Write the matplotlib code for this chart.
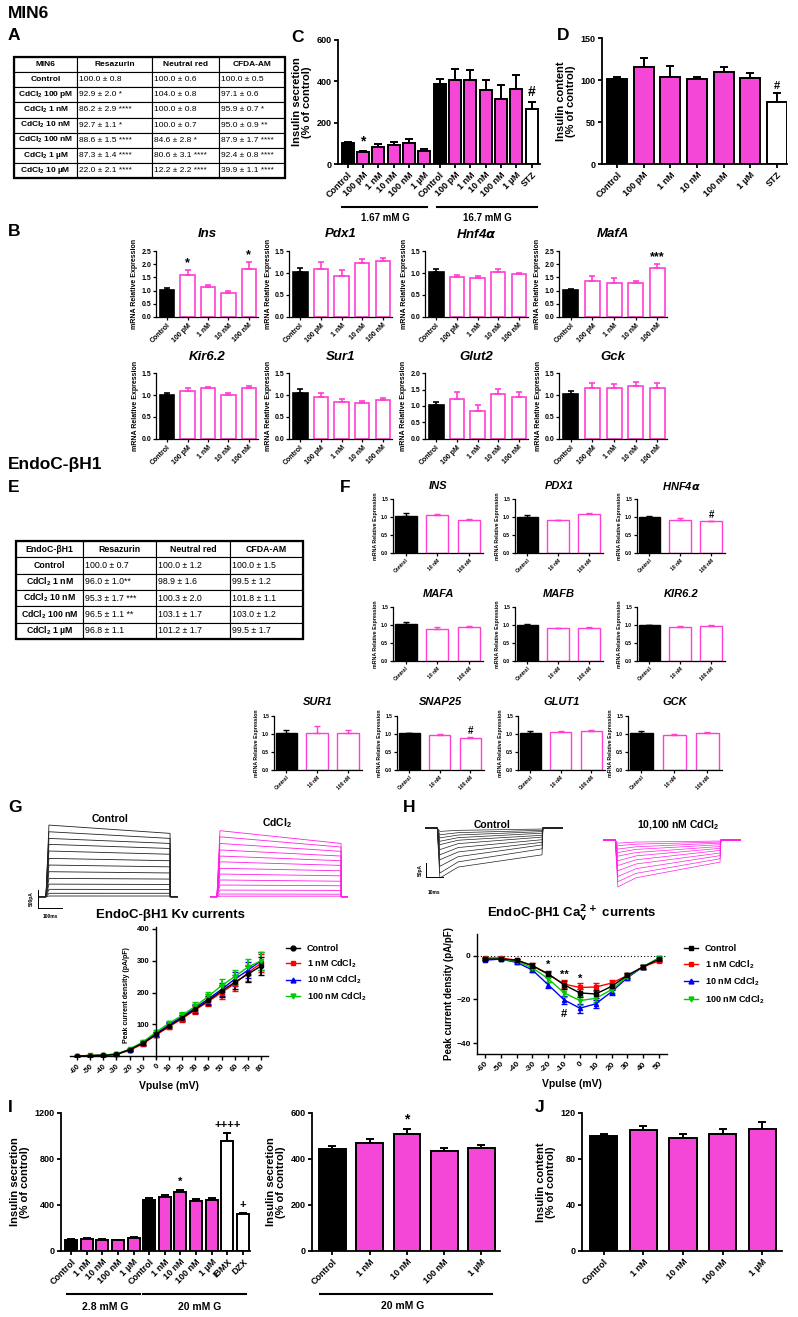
import numpy as np
import matplotlib
matplotlib.use("Agg")
import matplotlib.pyplot as plt
from matplotlib.lines import Line2D
from matplotlib.patches import Rectangle

plt.rcParams['font.family'] = ['Liberation Sans', 'DejaVu Sans']
plt.rcParams['font.weight'] = 'bold'
plt.rcParams['axes.labelweight'] = 'bold'
plt.rcParams['mathtext.default'] = 'regular'

W, H = 798, 1317
MAG = '#f447d8'
PINK = '#ff3fd2'

# ---------------- data ----------------
# A: MIN6 viability table
tabA_head = ["MIN6", "Resazurin", "Neutral red", "CFDA-AM"]
tabA_rows = ["Control", "CdCl$_2$ 100 pM", "CdCl$_2$ 1 nM", "CdCl$_2$ 10 nM",
             "CdCl$_2$ 100 nM", "CdCl$_2$ 1 µM", "CdCl$_2$ 10 µM"]
tabA_resazurin = ["100.0 ± 0.8", "92.9 ± 2.0 *", "86.2 ± 2.9 ****", "92.7 ± 1.1 *",
                  "88.6 ± 1.5 ****", "87.3 ± 1.4 ****", "22.0 ± 2.1 ****"]
tabA_neutral = ["100.0 ± 0.6", "104.0 ± 0.8", "100.0 ± 0.8", "100.0 ± 0.7",
                "84.6 ± 2.8 *", "80.6 ± 3.1 ****", "12.2 ± 2.2 ****"]
tabA_cfda = ["100.0 ± 0.5", "97.1 ± 0.6", "95.9 ± 0.7 *", "95.0 ± 0.9 **",
             "87.9 ± 1.7 ****", "92.4 ± 0.8 ****", "39.9 ± 1.1 ****"]

# E: EndoC-bH1 viability table
tabE_head = ["EndoC-βH1", "Resazurin", "Neutral red", "CFDA-AM"]
tabE_rows = ["Control", "CdCl$_2$ 1 nM", "CdCl$_2$ 10 nM", "CdCl$_2$ 100 nM", "CdCl$_2$ 1 µM"]
tabE_resazurin = ["100.0 ± 0.7", "96.0 ± 1.0**", "95.3 ± 1.7 ***", "96.5 ± 1.1 **", "96.8 ± 1.1"]
tabE_neutral = ["100.0 ± 1.2", "98.9 ± 1.6", "100.3 ± 2.0", "103.1 ± 1.7", "101.2 ± 1.7"]
tabE_cfda = ["100.0 ± 1.5", "99.5 ± 1.2", "101.8 ± 1.1", "103.0 ± 1.2", "99.5 ± 1.7"]

# C: MIN6 insulin secretion
c_labels = ["Control", "100 pM", "1 nM", "10 nM", "100 nM", "1 µM",
            "Control", "100 pM", "1 nM", "10 nM", "100 nM", "1 µM", "STZ"]
c_vals = [103, 57, 83, 90, 103, 63, 385, 405, 405, 358, 315, 365, 268]
c_errs = [5, 5, 12, 15, 18, 8, 28, 55, 52, 48, 65, 65, 33]
c_colors = ['black'] + [MAG] * 5 + ['black'] + [MAG] * 5 + ['white']

# D: MIN6 insulin content
d_labels = ["Control", "100 pM", "1 nM", "10 nM", "100 nM", "1 µM", "STZ"]
d_vals = [101, 116, 104, 101, 109, 102, 74]
d_errs = [3, 10, 13, 2, 7, 6, 10]
d_colors = ['black'] + [MAG] * 5 + ['white']

# B: MIN6 mRNA
b_labels = ["Control", "100 pM", "1 nM", "10 nM", "100 nM"]
ins_v, ins_e = [1.02, 1.60, 1.15, 0.92, 1.83], [0.07, 0.17, 0.08, 0.08, 0.25]
pdx1_v, pdx1_e = [1.03, 1.08, 0.93, 1.23, 1.28], [0.08, 0.17, 0.13, 0.09, 0.06]
hnf4a_v, hnf4a_e = [1.02, 0.90, 0.88, 1.02, 0.98], [0.07, 0.06, 0.06, 0.08, 0.03]
mafa_v, mafa_e = [1.02, 1.37, 1.30, 1.27, 1.87], [0.04, 0.17, 0.17, 0.09, 0.14]
kir62_v, kir62_e = [1.00, 1.08, 1.15, 1.00, 1.17], [0.04, 0.07, 0.03, 0.04, 0.04]
sur1_v, sur1_e = [1.04, 0.95, 0.83, 0.82, 0.89], [0.09, 0.09, 0.07, 0.05, 0.04]
glut2_v, glut2_e = [1.03, 1.22, 0.85, 1.35, 1.26], [0.08, 0.21, 0.17, 0.17, 0.17]
gck_v, gck_e = [1.02, 1.15, 1.15, 1.20, 1.15], [0.07, 0.12, 0.11, 0.09, 0.12]

# F: EndoC-bH1 mRNA
f_labels = ["Control", "10 nM", "100 nM"]
hINS_v, hINS_e = [1.02, 1.05, 0.92], [0.08, 0.03, 0.02]
hPDX1_v, hPDX1_e = [1.00, 0.91, 1.07], [0.06, 0.02, 0.05]
hHNF4A_v, hHNF4A_e = [1.00, 0.93, 0.88], [0.04, 0.04, 0.01]
hMAFA_v, hMAFA_e = [1.02, 0.90, 0.95], [0.06, 0.04, 0.02]
hMAFB_v, hMAFB_e = [1.00, 0.92, 0.93], [0.02, 0.01, 0.02]
hKIR62_v, hKIR62_e = [1.00, 0.94, 0.98], [0.01, 0.04, 0.02]
hSUR1_v, hSUR1_e = [1.02, 1.02, 1.02], [0.10, 0.19, 0.10]
hSNAP25_v, hSNAP25_e = [1.02, 0.96, 0.90], [0.01, 0.03, 0.03]
hGLUT1_v, hGLUT1_e = [1.02, 1.05, 1.07], [0.05, 0.04, 0.03]
hGCK_v, hGCK_e = [1.02, 0.98, 1.02], [0.05, 0.02, 0.04]

# G: Kv example sweeps (pA) : peak after onset / level at end of 500 ms step
kv_ctrl_peak = [1990, 1805, 1620, 1455, 1270, 1065, 880, 695, 510, 350, 205, 95, 20]
kv_ctrl_end = [1760, 1620, 1480, 1340, 1180, 1000, 830, 660, 490, 340, 200, 95, 20]
kv_cd_peak = [1835, 1665, 1480, 1300, 1130, 970, 790, 630, 465, 325, 185, 75, 15]
kv_cd_end = [1480, 1380, 1260, 1130, 1000, 870, 720, 580, 430, 305, 175, 70, 15]
kv_t = [-30, 0, 12, 500, 501, 530]

# G: Kv current density (pA/pF)
kv_v = [-60, -50, -40, -30, -20, -10, 0, 10, 20, 30, 40, 50, 60, 70, 80]
kv_ctrl = [0, 1, 2, 5, 20, 40, 68, 95, 120, 148, 175, 205, 232, 258, 283]
kv_1nm = [0, 2, 3, 5, 18, 38, 66, 92, 118, 145, 172, 200, 228, 262, 292]
kv_10nm = [0, 1, 3, 6, 20, 41, 70, 98, 124, 152, 180, 210, 242, 270, 300]
kv_100nm = [0, 1, 3, 6, 22, 44, 75, 103, 128, 157, 188, 222, 250, 280, 300]
kv_err = [1, 1, 1, 2, 3, 5, 7, 8, 10, 12, 15, 20, 22, 25, 28]

# H: Ca example sweeps (pA): peak / level at 12 ms / level at end of 60 ms step
ca_ctrl_peak = [192, 173, 147, 122, 103, 83, 64, 51, 38, 26, 13]
ca_ctrl_mid = [150, 130, 110, 92, 75, 60, 47, 37, 27, 18, 9]
ca_ctrl_end = [103, 80, 65, 55, 45, 35, 28, 20, 14, 9, 4]
ca_cd_peak = [180, 160, 140, 118, 98, 80, 62, 48, 35, 22, 12]
ca_cd_mid = [145, 128, 110, 92, 76, 61, 48, 36, 26, 16, 8]
ca_cd_end = [85, 72, 60, 50, 40, 32, 25, 18, 12, 8, 4]
ca_t = [-7, 0, 1.5, 12, 60, 60.5, 72]

# H: Ca current density (pA/pF)
ca_v = [-60, -50, -40, -30, -20, -10, 0, 10, 20, 30, 40, 50]
ca_ctrl = [-1.5, -1.5, -2, -4.5, -8.3, -13.3, -17, -17.5, -14, -9, -5, -1.5]
ca_1nm = [-1, -1, -2, -4.5, -8.5, -13, -14.5, -14.3, -12.5, -9, -5, -2.3]
ca_10nm = [-2, -1.5, -3, -6.5, -13.3, -20.2, -24, -22, -16.5, -10, -5, -1]
ca_100nm = [-1.5, -1.5, -2.5, -5.5, -10.5, -17, -20.5, -19.5, -15.5, -9.5, -5, -1]
ca_err = [0.5, 0.5, 0.7, 1, 1.3, 1.8, 2, 1.8, 1.5, 1.2, 1, 0.7]

# I: EndoC-bH1 insulin secretion
i_labels = ["Control", "1 nM", "10 nM", "100 nM", "1 µM",
            "Control", "1 nM", "10 nM", "100 nM", "1 µM", "IBMX", "DZX"]
i_vals = [100, 105, 100, 95, 115, 445, 470, 510, 435, 445, 960, 318]
i_errs = [4, 5, 5, 3, 8, 15, 20, 20, 15, 15, 65, 15]
i_colors = ['black'] + [MAG] * 4 + ['black'] + [MAG] * 4 + ['white', 'white']

i2_labels = ["Control", "1 nM", "10 nM", "100 nM", "1 µM"]
i2_vals = [443, 470, 510, 435, 447]
i2_errs = [12, 18, 20, 15, 15]

# J: EndoC-bH1 insulin content
j_labels = ["Control", "1 nM", "10 nM", "100 nM", "1 µM"]
j_vals = [100, 105, 98, 102, 106]
j_errs = [2, 4, 4, 4, 6]
ij_colors = ['black'] + [MAG] * 4

fig = plt.figure(figsize=(W / 100, H / 100), dpi=100)


def px_axes(l, t, r, b):
    return fig.add_axes([l / W, 1 - b / H, (r - l) / W, (b - t) / H])


def ftext(x, y, s, **kw):
    kw.setdefault('ha', 'left')
    kw.setdefault('va', 'center')
    fig.text(x / W, 1 - y / H, s, **kw)


def fline(x0, x1, y0, y1, lw=1.5):
    fig.add_artist(Line2D([x0 / W, x1 / W], [1 - y0 / H, 1 - y1 / H],
                          transform=fig.transFigure, color='black', lw=lw))


def style_axes(ax, fs, lw=1.2):
    for s in ['top', 'right']:
        ax.spines[s].set_visible(False)
    for s in ['left', 'bottom']:
        ax.spines[s].set_linewidth(lw)
    ax.tick_params(direction='out', length=3, width=lw, labelsize=fs, pad=1.5)


def draw_table(box, head, rows, cols, col_w, fs):
    ax = px_axes(*box)
    ax.set_axis_off()
    cells = [head] + [[r] + [c[i] for c in cols] for i, r in enumerate(rows)]
    tb = ax.table(cellText=cells, colWidths=col_w, bbox=[0, 0, 1, 1], cellLoc='left')
    tb.auto_set_font_size(False)
    for (r, c), cell in tb.get_celld().items():
        cell.set_linewidth(0.8)
        cell.PAD = 0.03
        txt = cell.get_text()
        txt.set_fontsize(fs)
        txt.set_fontweight('normal')
        txt.set_family(['Liberation Sans Narrow', 'Liberation Sans', 'DejaVu Sans'])
        if r == 0 or c == 0:
            cell._loc = 'center'
            txt.set_ha('center')
            txt.set_fontweight('bold')
    ax.add_patch(Rectangle((0, 0), 1, 1, transform=ax.transAxes, fill=False,
                           lw=1.6, clip_on=False))


def bar_panel(box, labels, vals, errs, colors, ylim, yticks, xlim, width,
              ylabel, fs=6.5, lfs=8, lw=1.4, marks=None, mark_fs=10):
    ax = px_axes(*box)
    x = np.arange(len(vals))
    ax.bar(x, vals, width, color=colors, edgecolor='black', linewidth=lw, zorder=2)
    ax.errorbar(x, vals, yerr=[np.zeros(len(vals)), errs], fmt='none', ecolor='black',
                elinewidth=lw, capsize=3, capthick=lw, zorder=1)
    ax.set_xlim(*xlim)
    ax.set_ylim(*ylim)
    ax.set_yticks(yticks)
    ax.set_xticks(x)
    ax.set_xticklabels(labels, rotation=45, ha='right', rotation_mode='anchor')
    style_axes(ax, fs, lw=1.3)
    ax.set_ylabel(ylabel, fontsize=lfs, linespacing=1.1, labelpad=3)
    if marks:
        span = ylim[1] - ylim[0]
        for i, m in marks.items():
            ax.text(i, vals[i] + errs[i] + 0.02 * span, m, ha='center', va='bottom',
                    fontsize=mark_fs)
    return ax


def mrna_panel(box, title, vals, errs, labels, ylim, yticks, xlim, title_y,
               fs=4.5, lfs=5, tfs=9.5, lw=1.2, marks=None, mark_fs=9, cap=2.5):
    ax = px_axes(*box)
    x = np.arange(len(vals))
    face = ['black'] + ['white'] * (len(vals) - 1)
    edge = ['black'] + [PINK] * (len(vals) - 1)
    ax.bar(x, vals, 0.7, color=face, edgecolor=edge, linewidth=lw, zorder=2)
    for xi, v, e, c in zip(x, vals, errs, edge):
        ax.errorbar(xi, v, yerr=[[0], [e]], fmt='none', ecolor=c, elinewidth=lw,
                    capsize=cap, capthick=lw, zorder=3)
    ax.set_xlim(*xlim)
    ax.set_ylim(*ylim)
    ax.set_yticks(yticks)
    ax.set_yticklabels([f"{t:.1f}" for t in yticks])
    ax.set_xticks(x)
    ax.set_xticklabels(labels, rotation=45, ha='right', rotation_mode='anchor')
    style_axes(ax, fs, lw=0.9)
    ax.tick_params(length=2)
    ax.set_ylabel("mRNA Relative Expression", fontsize=lfs, labelpad=2)
    l, t, r, b = box
    ftext((l + r) / 2, title_y, title, ha='center', fontsize=tfs, style='italic')
    if marks:
        span = ylim[1] - ylim[0]
        for i, m in marks.items():
            ax.text(i, vals[i] + errs[i] + 0.01 * span, m, ha='center', va='bottom',
                    fontsize=mark_fs)
    return ax


# ---------------- headings ----------------
for x, y, s in [(8, 14, "MIN6"), (8, 36, "A"), (8, 232, "B"), (291, 37, "C"),
                (557, 35, "D"), (8, 465, "EndoC-βH1"), (8, 488, "E"), (340, 487, "F"),
                (8, 807, "G"), (403, 807, "H"), (8, 1108, "I"), (535, 1108, "J")]:
    ftext(x, y, s, fontsize=12.5)

# ---------------- A / E tables ----------------
draw_table((14, 57, 285, 178), tabA_head, tabA_rows,
           [tabA_resazurin, tabA_neutral, tabA_cfda], [63, 75, 67, 66], 6)
draw_table((16, 541, 303, 639), tabE_head, tabE_rows,
           [tabE_resazurin, tabE_neutral, tabE_cfda], [67, 73, 74, 73], 6.3)

# ---------------- C / D ----------------
bar_panel((338, 40, 540, 164), c_labels, c_vals, c_errs, c_colors, (0, 600),
          [0, 200, 400, 600], (-0.63, 12.55), 0.78, "Insulin secretion\n(% of control)",
          marks={1: '*', 12: '#'})
fline(342, 427, 207, 207)
fline(437, 537, 207, 207)
ftext(385, 218, "1.67 mM G", ha='center', fontsize=7)
ftext(487, 218, "16.7 mM G", ha='center', fontsize=7)

bar_panel((602, 38, 787, 164), d_labels, d_vals, d_errs, d_colors, (0, 150),
          [0, 50, 100, 150], (-0.56, 6.38), 0.75, "Insulin content\n(% of control)",
          marks={6: '#'}, mark_fs=8)

# ---------------- B ----------------
xl5 = (-0.55, 4.45)
t05 = [0.0, 0.5, 1.0, 1.5]
t25 = [0.0, 0.5, 1.0, 1.5, 2.0, 2.5]
t20 = [0.0, 0.5, 1.0, 1.5, 2.0]
bkw = dict(fs=5)
mrna_panel((156, 251, 258, 317), "Ins", ins_v, ins_e, b_labels, (0, 2.5), t25, xl5, 234,
           marks={1: '*', 4: '*'}, **bkw)
mrna_panel((289, 251, 392, 317), "Pdx1", pdx1_v, pdx1_e, b_labels, (0, 1.5), t05, xl5, 234, **bkw)
mrna_panel((425, 251, 528, 317), r"Hnf4$\mathit{\alpha}$", hnf4a_v, hnf4a_e, b_labels,
           (0, 1.5), t05, xl5, 234, **bkw)
mrna_panel((559, 251, 667, 317), "MafA", mafa_v, mafa_e, b_labels, (0, 2.5), t25, xl5, 234,
           marks={4: '***'}, **bkw)
mrna_panel((156, 373, 258, 439), "Kir6.2", kir62_v, kir62_e, b_labels, (0, 1.5), t05, xl5, 357, **bkw)
mrna_panel((289, 373, 392, 439), "Sur1", sur1_v, sur1_e, b_labels, (0, 1.5), t05, xl5, 357, **bkw)
mrna_panel((425, 373, 528, 439), "Glut2", glut2_v, glut2_e, b_labels, (0, 2.0), t20, xl5, 357, **bkw)
mrna_panel((559, 373, 667, 439), "Gck", gck_v, gck_e, b_labels, (0, 1.5), t05, xl5, 357, **bkw)

# ---------------- F ----------------
xl3 = (-0.4, 2.45)
fkw = dict(fs=3.6, lfs=3.8, tfs=8, lw=1.0, mark_fs=7, cap=2.5)
mrna_panel((393, 499, 483, 553), "INS", hINS_v, hINS_e, f_labels, (0, 1.5), t05, xl3, 486, **fkw)
mrna_panel((515, 499, 603, 553), "PDX1", hPDX1_v, hPDX1_e, f_labels, (0, 1.5), t05, xl3, 486, **fkw)
mrna_panel((637, 499, 725, 553), r"HNF4$\mathit{\alpha}$", hHNF4A_v, hHNF4A_e, f_labels,
           (0, 1.5), t05, xl3, 486, marks={2: '#'}, **fkw)
mrna_panel((393, 607, 483, 661), "MAFA", hMAFA_v, hMAFA_e, f_labels, (0, 1.5), t05, xl3, 594, **fkw)
mrna_panel((515, 607, 603, 661), "MAFB", hMAFB_v, hMAFB_e, f_labels, (0, 1.5), t05, xl3, 594, **fkw)
mrna_panel((637, 607, 725, 661), "KIR6.2", hKIR62_v, hKIR62_e, f_labels, (0, 1.5), t05, xl3, 594, **fkw)
mrna_panel((274, 716, 362, 770), "SUR1", hSUR1_v, hSUR1_e, f_labels, (0, 1.5), t05, xl3, 702, **fkw)
mrna_panel((397, 716, 484, 770), "SNAP25", hSNAP25_v, hSNAP25_e, f_labels, (0, 1.5), t05, xl3, 702,
           marks={2: '#'}, **fkw)
mrna_panel((518, 716, 605, 770), "GLUT1", hGLUT1_v, hGLUT1_e, f_labels, (0, 1.5), t05, xl3, 702, **fkw)
mrna_panel((628, 716, 722, 770), "GCK", hGCK_v, hGCK_e, f_labels, (0, 1.5), t05, xl3, 702, **fkw)

# ---------------- G: Kv traces ----------------
for box, peaks, ends, col in [((38.5, 818, 177.5, 905), kv_ctrl_peak, kv_ctrl_end, '#222222'),
                              ((209.5, 818, 348.5, 905), kv_cd_peak, kv_cd_end, '#ff1fe8')]:
    ax = px_axes(*box)
    for p, e in zip(peaks, ends):
        ax.plot(kv_t, [0, 0, p, e, 0, 0], color=col, lw=0.6)
    ax.set_xlim(-30, 530)
    ax.set_ylim(-230, 2187)
    ax.set_axis_off()
ftext(110, 819, "Control", ha='center', fontsize=7.5)
ftext(277, 823, "CdCl$_2$", ha='center', fontsize=7.5)
fline(38, 38, 890, 908, lw=0.7)
fline(38, 62, 908, 908, lw=0.7)
ftext(31, 899, "500pA", rotation=90, ha='center', fontsize=3.5)
ftext(50, 917, "100ms", ha='center', fontsize=3.5)
ftext(170, 915, "EndoC-βH1 Kv currents", ha='center', fontsize=9.5)

order = ["Control", "1 nM CdCl$_2$", "10 nM CdCl$_2$", "100 nM CdCl$_2$"]
styles = {"Control": ('black', 'o'), "1 nM CdCl$_2$": ('red', 's'),
          "10 nM CdCl$_2$": ('blue', '^'), "100 nM CdCl$_2$": ('#00cc00', 'v')}

ax = px_axes(70.4, 927.4, 267.6, 1057.3)
for vals, lab in [(kv_1nm, order[1]), (kv_10nm, order[2]), (kv_100nm, order[3]), (kv_ctrl, order[0])]:
    col, mk = styles[lab]
    ax.errorbar(kv_v, vals, yerr=kv_err, color=col, marker=mk, ms=3,
                lw=1, elinewidth=1.3, capsize=2)
ax.set_xlim(-65, 85)
ax.set_ylim(-4, 405)
ax.spines['left'].set_position(('data', 0))
ax.spines['bottom'].set_position(('data', 0))
style_axes(ax, 5.5, lw=1.0)
ax.set_xticks(kv_v)
ax.set_xticklabels([str(v) for v in kv_v], rotation=45, ha='right', rotation_mode='anchor')
ax.set_yticks([100, 200, 300, 400])
ax.set_xlabel("Vpulse (mV)", fontsize=7.5, labelpad=4)
ftext(127, 995, "Peak current density (pA/pF)", rotation=90, ha='center', fontsize=5)
hnd = [Line2D([], [], color=styles[k][0], marker=styles[k][1], ms=3.5, lw=1) for k in order]
ax.legend(hnd, order, loc='upper left', frameon=False,
          bbox_to_anchor=(278 / W, 1 - 936 / H), bbox_transform=fig.transFigure,
          fontsize=6.5, handlelength=1.5, handletextpad=0.8, labelspacing=0.45)

# ---------------- H: Ca traces ----------------
for box, peaks, mids, ends, col in [((425, 822, 563, 884), ca_ctrl_peak, ca_ctrl_mid, ca_ctrl_end, '#222222'),
                                    ((603, 834, 741, 896), ca_cd_peak, ca_cd_mid, ca_cd_end, '#ff1fe8')]:
    ax = px_axes(*box)
    for p, m, e in zip(peaks, mids, ends):
        ax.plot(ca_t, [0, 0, -p, -m, -e, 0, 0], color=col, lw=0.5)
    ax.set_xlim(-7, 72)
    ax.set_ylim(-215, 23)
    ax.set_axis_off()
ftext(492, 825, "Control", ha='center', fontsize=7.5)
ftext(678, 825, "10,100 nM CdCl$_2$", ha='center', fontsize=7.5)
fline(426, 426, 863, 877, lw=0.7)
fline(426, 443, 877, 877, lw=0.7)
ftext(420, 870, "50pA", rotation=90, ha='center', fontsize=3.5)
ftext(434, 892, "10ms", ha='center', fontsize=3.5)
ftext(572, 914, r"EndoC-βH1 Ca$_\mathbf{v}^\mathbf{2+}$ currents", ha='center', fontsize=9.5)

styles["Control"] = ('black', 's')
ax = px_axes(477, 934, 667, 1054)
for vals, lab in [(ca_1nm, order[1]), (ca_10nm, order[2]), (ca_100nm, order[3]), (ca_ctrl, order[0])]:
    col, mk = styles[lab]
    ax.errorbar(ca_v, vals, yerr=ca_err, color=col, marker=mk, ms=3,
                lw=1, elinewidth=1.2, capsize=2)
ax.axhline(0, color='black', lw=0.8, ls=(0, (1, 2)))
ax.set_xlim(-65, 55)
ax.set_ylim(-45, 10)
style_axes(ax, 6, lw=1.0)
ax.set_xticks(ca_v)
ax.set_xticklabels([str(v) for v in ca_v], rotation=45, ha='right', rotation_mode='anchor')
ax.set_yticks([-40, -20, 0])
ax.set_xlabel("Vpulse (mV)", fontsize=7.5, labelpad=4)
ax.set_ylabel("Peak current density (pA/pF)", fontsize=7, labelpad=2)
for xv, yv, m in [(-20, -4.0, '*'), (-10, -8.5, '**'), (0, -10.5, '*'), (-10, -26.5, '#')]:
    ax.text(xv, yv, m, ha='center', va='center', fontsize=8)
hnd = [Line2D([], [], color=styles[k][0], marker=styles[k][1], ms=3.5, lw=1) for k in order]
ax.legend(hnd, order, loc='upper left', frameon=False,
          bbox_to_anchor=(676 / W, 1 - 936 / H), bbox_transform=fig.transFigure,
          fontsize=6.5, handlelength=1.5, handletextpad=0.8, labelspacing=0.55)

# ---------------- I / J ----------------
bar_panel((61, 1113, 250, 1251), i_labels, i_vals, i_errs, i_colors, (0, 1200),
          [0, 400, 800, 1200], (-0.64, 11.45), 0.77, "Insulin secretion\n(% of control)",
          marks={7: '*', 10: '++++', 11: '+'}, mark_fs=8)
fline(67, 140, 1294, 1294)
fline(143, 246, 1294, 1294)
ftext(105, 1307, "2.8 mM G", ha='center', fontsize=7.5)
ftext(200, 1307, "20 mM G", ha='center', fontsize=7.5)

bar_panel((312, 1113, 500, 1251), i2_labels, i2_vals, i2_errs, ij_colors, (0, 600),
          [0, 200, 400, 600], (-0.55, 4.5), 0.72, "Insulin secretion\n(% of control)",
          marks={2: '*'})
fline(320, 492, 1294, 1294)
ftext(403, 1306, "20 mM G", ha='center', fontsize=7.5)

bar_panel((582, 1113, 782, 1251), j_labels, j_vals, j_errs, ij_colors, (0, 120),
          [0, 40, 80, 120], (-0.55, 4.5), 0.69, "Insulin content\n(% of control)")

fig.savefig("out.png", dpi=100)
